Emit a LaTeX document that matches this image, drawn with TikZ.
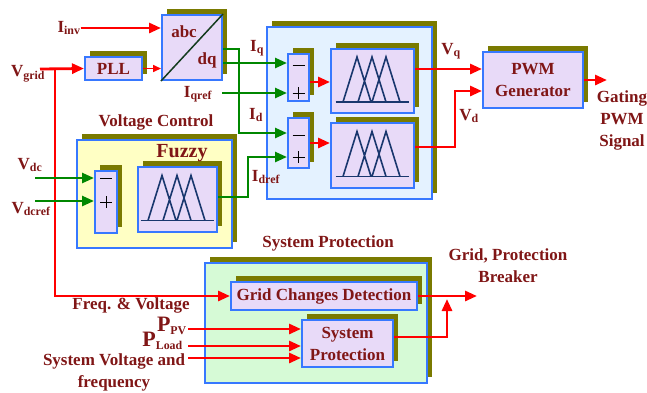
\documentclass[tikz,border=0pt]{standalone}
\usepackage{fontspec}
\setmainfont{Liberation Serif}
\usetikzlibrary{shadows,arrows.meta,calc}
\definecolor{txt}{RGB}{128,22,22}
\definecolor{bl}{RGB}{55,120,255}
\definecolor{sh}{RGB}{122,122,0}
\definecolor{lav}{RGB}{232,218,248}
\definecolor{gbox}{RGB}{228,242,255}
\definecolor{ybox}{RGB}{255,255,196}
\definecolor{grbox}{RGB}{214,250,214}
\definecolor{gr}{RGB}{0,135,0}
\definecolor{navy}{RGB}{25,55,110}
\definecolor{diag}{RGB}{20,60,30}
\tikzset{
 base/.style={font=\bfseries\fontsize{17}{22}\selectfont, text=txt, inner sep=0pt},
 box/.style={base, draw=bl, line width=2pt, fill=lav, align=center,
   general shadow={fill=sh, shadow xshift=5pt, shadow yshift=6.5pt}},
 grp/.style={draw=bl, line width=2pt, inner sep=0pt,
   general shadow={fill=sh, shadow xshift=5pt, shadow yshift=6.5pt}},
 rarr/.style={draw=red, line width=2.8pt, -{Triangle[length=12pt,width=10pt]}},
 rthin/.style={draw=red, line width=1.6pt, -{Triangle[length=8pt,width=7pt]}},
 garr/.style={draw=gr, line width=2.5pt, -{Triangle[length=12pt,width=10pt]}},
 sign/.style={draw=black, line width=1pt},
 mf/.pic={
   \draw[navy, line width=1.8pt] (-37,21) -- (36,21);
   \draw[navy, line width=1.6pt]
     (-29.5,21) -- (-15.5,-24) -- (-1.5,21)
     (-14.5,21) -- (-0.5,-24) -- (13.5,21)
     (-0.5,21) -- (13.5,-24) -- (27.5,21);
 }
}
\begin{document}
\begin{tikzpicture}[x=1pt,y=-1pt]
\useasboundingbox (0,0) rectangle (647,392);

% group boxes
\node[grp, fill=gbox, minimum width=165pt, minimum height=172pt] (fg) at (349.5,113) {};
\node[grp, fill=ybox, minimum width=155pt, minimum height=108pt] (vc) at (154.5,194) {};
\node[grp, fill=grbox, minimum width=222pt, minimum height=120pt] (spg) at (316,323) {};

% blocks
\node[box, minimum width=60pt, minimum height=65pt] (abc) at (192,47.5) {};
\draw[diag, line width=1.5pt] (abc.south west) -- (abc.north east);
\node[base] (abct) at (184,32) {abc};
\node[base] (dqt) at (207,60) {dq};

\node[box, minimum width=57pt, minimum height=23pt] (pll) at (113.5,68.5) {PLL};

\node[box, minimum width=21pt, minimum height=47pt] (sq) at (298.5,77.5) {};
\node[box, minimum width=21pt, minimum height=50pt] (sd) at (298.5,143) {};
\node[box, minimum width=83pt, minimum height=64pt] (fq) at (372.5,81) {};
\pic at (fq) {mf};
\node[box, minimum width=83pt, minimum height=65pt] (fd) at (372.5,155.5) {};
\pic at (fd) {mf};

\node[box, minimum width=100pt, minimum height=56pt] (pwm) at (533,80) {PWM\\Generator};

\node[box, minimum width=22pt, minimum height=62pt] (sv) at (106,202) {};
\node[box, minimum width=79pt, minimum height=65pt] (fv) at (177.5,199.5) {};
\pic at (fv) {mf};

\node[box, minimum width=186pt, minimum height=28pt] (gcd) at (324,296) {Grid Changes Detection};
\node[box, minimum width=91pt, minimum height=47pt] (spb) at (347.5,343.5) {System\\Protection};

% summer signs
\draw[sign] (292.5,65) -- (304.5,65);
\draw[sign] (292.5,93) -- (304.5,93) (298.5,87) -- (298.5,99);
\draw[sign] (292.5,135) -- (304.5,135);
\draw[sign] (292.5,157) -- (304.5,157) (298.5,151) -- (298.5,163);
\draw[sign] (100,178) -- (112,178);
\draw[sign] (100,202) -- (112,202) (106,196) -- (106,208);

% labels
\node[base] (iinv) at (69,28) {I\textsubscript{inv}};
\node[base] (vgrid) at (28,74) {V\textsubscript{grid}};
\node[base] (iq) at (257,48) {I\textsubscript{q}};
\node[base] (iqref) at (198,94) {I\textsubscript{qref}};
\node[base] (id) at (256,115) {I\textsubscript{d}};
\node[base] (idref) at (266,177) {I\textsubscript{dref}};
\node[base] (vq) at (451,51) {V\textsubscript{q}};
\node[base] (vd) at (469,116) {V\textsubscript{d}};
\node[base] (vdc) at (30,165) {V\textsubscript{dc}};
\node[base] (vdcref) at (31,209) {V\textsubscript{dcref}};
\node[base] (vct) at (156,122) {Voltage Control};
\node[base, font=\bfseries\fontsize{20}{22}\selectfont] (fz) at (182,153) {Fuzzy};
\node[base] (spt) at (328,243) {System Protection};
\node[base, align=center] (gpb) at (508,266) {Grid, Protection\\Breaker};
\node[base, align=center] (gat) at (622,120) {Gating\\PWM\\Signal};
\node[base] (fvt) at (131,305) {Freq. \& Voltage};
\node[base, anchor=east] (ppv) at (187,326) {{\fontsize{22}{22}\selectfont P}\textsubscript{PV}};
\node[base, anchor=east] (pload) at (183,341) {{\fontsize{22}{22}\selectfont P}\textsubscript{Load}};
\node[base, align=center] (svf) at (114,372) {System Voltage and\\frequency};

% coordinates
\coordinate (vg0) at (40,69);
\coordinate (j1) at (55,69);
\coordinate (gout) at (607,80);
\coordinate (bout) at (477,296);

% red connectors
\draw[rarr] (iinv.east) -- (abc.west |- iinv.east);
\draw[rarr] (vg0) -- (pll.west);
\draw[rarr] (j1) |- (gcd.west);
\draw[rthin] (pll.east) -- (abc.west |- pll.east);
\draw[rarr] (sq.east |- 0,82) -- (fq.west |- 0,82);
\draw[rarr] (sd.east |- 0,143) -- (fd.west |- 0,143);
\draw[rarr] (fq.east |- 0,69) -- (pwm.west |- 0,69);
\draw[rarr] (fd.east |- 0,147) -- (455,147) -- (455,91) -- (pwm.west |- 0,91);
\draw[rarr] (pwm.east) -- (gout);
\draw[rarr] (188,329) -- (spb.west |- 0,329);
\draw[rarr] (188,346) -- (spb.west |- 0,346);
\draw[rarr] (188,358) -- (spb.west |- 0,358);
\draw[rarr] (gcd.east) -- (bout);
\draw[rarr] (spb.east |- 0,337) -- (447,337) -- (447,299);

% green connectors
\draw[garr] (abc.east |- 0,49) -- (239,49) -- (239,133) -- (sd.west |- 0,133);
\draw[garr] (abc.east |- 0,63) -- (sq.west |- 0,63);
\draw[garr] (222,93) -- (sq.west |- 0,93);
\draw[garr] (fv.east |- 0,197) -- (248,197) -- (248,157) -- (sd.west |- 0,157);
\draw[garr] (35,178) -- (sv.west |- 0,178);
\draw[garr] (35,201) -- (sv.west |- 0,201);
\end{tikzpicture}
\end{document}
